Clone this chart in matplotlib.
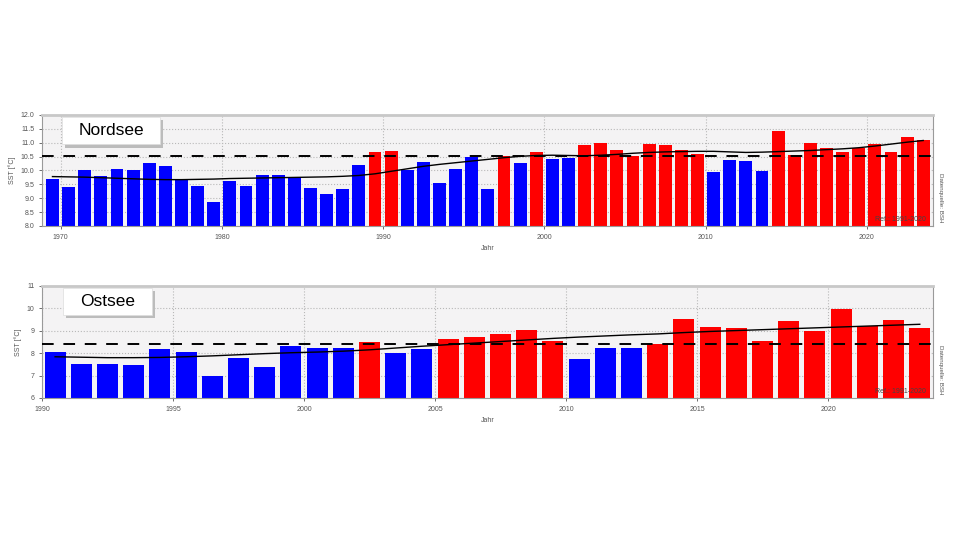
import numpy as np
import matplotlib
matplotlib.use('Agg')
import matplotlib.pyplot as plt
from matplotlib.patches import Rectangle

plt.rcParams['font.family'] = ['Liberation Sans', 'DejaVu Sans']

# Nordsee: Jahresmittel SST 1969-2023
nord_jahre = list(range(1969, 2024))
nord_sst = [9.70, 9.39, 10.00, 9.81, 10.06, 10.02, 10.28, 10.16, 9.67, 9.44,
            8.88, 9.61, 9.45, 9.82, 9.83, 9.77, 9.36, 9.15, 9.32, 10.21,
            10.67, 10.70, 10.01, 10.30, 9.56, 10.06, 10.49, 9.33, 10.53, 10.27,
            10.68, 10.40, 10.44, 10.93, 10.99, 10.73, 10.53, 10.95, 10.90, 10.75,
            10.58, 9.94, 10.39, 10.35, 9.99, 11.44, 10.57, 10.99, 10.82, 10.67,
            10.82, 10.95, 10.65, 11.22, 11.10]
nord_trend = [9.78, 9.77, 9.76, 9.74, 9.72, 9.70, 9.68, 9.67, 9.67, 9.68,
              9.69, 9.71, 9.72, 9.73, 9.74, 9.75, 9.76, 9.77, 9.79, 9.82,
              9.88, 9.97, 10.06, 10.15, 10.22, 10.28, 10.34, 10.40, 10.46, 10.51,
              10.54, 10.55, 10.54, 10.53, 10.55, 10.58, 10.62, 10.65, 10.67, 10.68,
              10.69, 10.69, 10.67, 10.65, 10.66, 10.68, 10.70, 10.72, 10.75, 10.78,
              10.82, 10.88, 10.95, 11.02, 11.08]
nord_ref = 10.51

# Ostsee: Jahresmittel SST 1990-2023
ost_jahre = list(range(1990, 2024))
ost_sst = [8.07, 7.50, 7.50, 7.49, 8.18, 8.04, 6.96, 7.80, 7.40, 8.33,
           8.25, 8.22, 8.50, 8.00, 8.20, 8.62, 8.74, 8.86, 9.02, 8.54,
           7.73, 8.22, 8.25, 8.41, 9.51, 9.17, 9.14, 8.54, 9.45, 8.99,
           9.98, 9.20, 9.47, 9.14]
ost_trend = [7.84, 7.82, 7.80, 7.80, 7.81, 7.84, 7.88, 7.93, 7.98, 8.02,
             8.05, 8.09, 8.15, 8.23, 8.31, 8.38, 8.45, 8.52, 8.59, 8.66,
             8.72, 8.77, 8.82, 8.86, 8.92, 8.97, 9.01, 9.05, 9.09, 9.13,
             9.17, 9.21, 9.25, 9.29]
ost_ref = 8.40


def sst_panel(ax, jahre, sst, trend, ref, name, xlim, ylim, yticks, xticks, box):
    x = np.array(jahre) + 0.5
    farben = ['#ff0000' if v > ref else '#0000ff' for v in sst]
    ax.set_facecolor('#f4f3f4')
    ax.bar(x, np.array(sst) - ylim[0], bottom=ylim[0], width=0.8, color=farben, zorder=2)
    ax.plot(x, trend, color='black', linewidth=1.0, zorder=3)
    ax.axhline(ref, color='black', linestyle=(0, (6, 5)), linewidth=1.4, zorder=4)

    ax.set_xlim(*xlim)
    ax.set_ylim(*ylim)
    ax.set_yticks(yticks)
    ax.set_xticks(xticks)
    ax.grid(True, color='#b8b8b8', linestyle=':', linewidth=0.8, zorder=0)
    ax.set_axisbelow(True)
    ax.tick_params(labelsize=5, colors='#555555', length=2, width=0.6)
    ax.set_ylabel('SST [°C]', fontsize=5, color='#555555', labelpad=3)
    ax.set_xlabel('Jahr', fontsize=5, color='#555555', labelpad=3)
    for s in ax.spines.values():
        s.set_color('#9a9a9a')
        s.set_linewidth(0.8)
    ax.spines['top'].set_linewidth(2.0)
    ax.spines['top'].set_color('#c8c8c8')

    ax.text(0.992, 0.03, 'Ref.: 1991-2020', transform=ax.transAxes, fontsize=5,
            color='#444444', ha='right', va='bottom', zorder=5)
    ax.text(1.006, 0.03, 'Datenquelle: BSH', transform=ax.transAxes, fontsize=4.5,
            color='#555555', rotation=270, ha='left', va='bottom')

    # Titelkasten mit Schatten
    x0, y0, x1, y1 = box
    ax.add_patch(Rectangle((x0 + 0.003, y0 - 0.03), x1 - x0, y1 - y0, transform=ax.transAxes,
                           facecolor='#bcbcbc', edgecolor='none', zorder=6, clip_on=False))
    ax.add_patch(Rectangle((x0, y0), x1 - x0, y1 - y0, transform=ax.transAxes,
                           facecolor='white', edgecolor='#dddddd', linewidth=0.5, zorder=7,
                           clip_on=False))
    ax.text((x0 + x1) / 2, (y0 + y1) / 2, name, transform=ax.transAxes, fontsize=12.5,
            color='black', ha='center', va='center', zorder=8)


fig = plt.figure(figsize=(9.6, 5.4), dpi=100)
ax1 = fig.add_axes([0.04375, 0.5815, 0.928, 0.2056])
ax2 = fig.add_axes([0.04375, 0.263, 0.928, 0.2074])

sst_panel(ax1, nord_jahre, nord_sst, nord_trend, nord_ref, 'Nordsee',
          (1968.85, 2024.1), (8.0, 12.0), np.arange(8.0, 12.01, 0.5),
          [1970, 1980, 1990, 2000, 2010, 2020], (0.0224, 0.735, 0.1324, 0.982))
ax1.yaxis.set_major_formatter(matplotlib.ticker.FormatStrFormatter('%.1f'))

sst_panel(ax2, ost_jahre, ost_sst, ost_trend, ost_ref, 'Ostsee',
          (1990, 2024), (6, 11), range(6, 12),
          [1990, 1995, 2000, 2005, 2010, 2015, 2020], (0.0235, 0.741, 0.1235, 0.982))

fig.savefig('out.png', dpi=100, facecolor='white')
